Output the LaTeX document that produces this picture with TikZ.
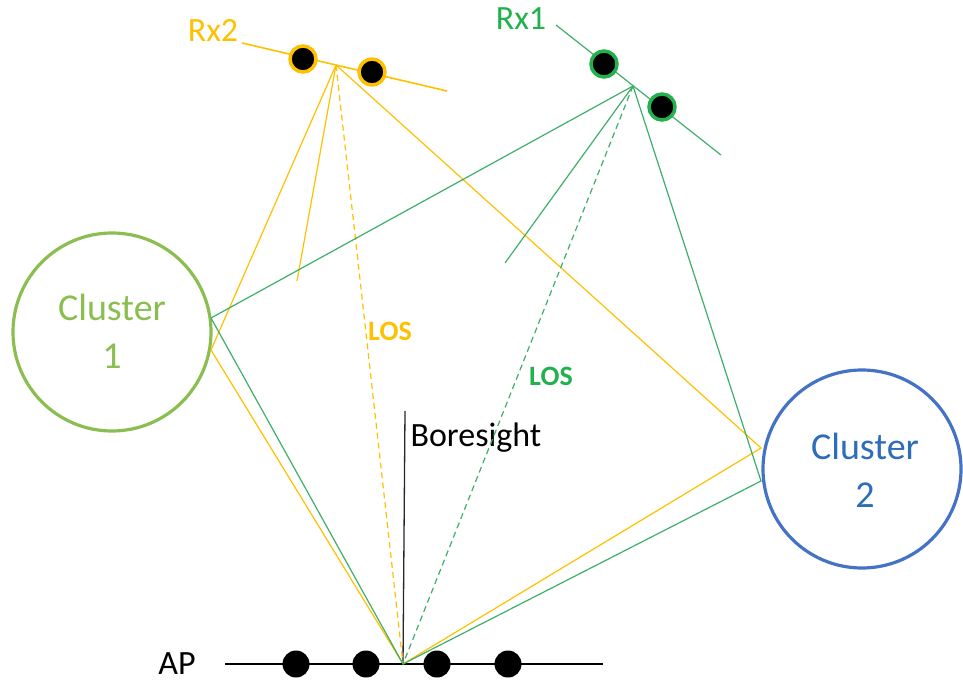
\documentclass[tikz,border=0pt]{standalone}
\usepackage{fontspec}
\setmainfont{Carlito}
\definecolor{orng}{HTML}{FFC000}
\definecolor{grn}{HTML}{3DAF6A}
\definecolor{grntxt}{HTML}{22B14C}
\definecolor{cgreen}{HTML}{8BBE50}
\definecolor{cblue}{HTML}{4472C4}
\definecolor{cbluetxt}{HTML}{2E6EB8}
\begin{document}
\begin{tikzpicture}[x=1pt,y=-1pt,
  ray/.style={line width=1.2pt},
  losray/.style={line width=1.2pt,dash pattern=on 6pt off 4pt},
  rxdot/.style={circle,fill=black,draw=#1,line width=3.5pt,minimum size=26pt,inner sep=0pt},
  apdot/.style={circle,fill=black,minimum size=27pt,inner sep=0pt},
  cluster/.style={circle,draw=#1,line width=3.2pt,minimum size=198pt,inner sep=0pt},
  lbl/.style={font=\fontsize{34}{40}\selectfont},
  clbl/.style={font=\fontsize{38}{48}\selectfont,align=center},
  loslbl/.style={font=\fontsize{28}{32}\selectfont\bfseries}]
\useasboundingbox (0,0) rectangle (963,684);
% clusters
\node[cluster=cgreen] (cl1) at (112,332) {};
\node[clbl,text=cgreen] (cl1t) at (112,331) {Cluster\\1};
\node[cluster=cblue] (cl2) at (862,469) {};
\node[clbl,text=cbluetxt] (cl2t) at (865,470) {Cluster\\2};
% key points
\coordinate (ap) at (403,664);
\coordinate (f2) at (336,65);
\coordinate (f1) at (633,86);
\coordinate (c1a) at (211,350);
\coordinate (c1b) at (211,318);
\coordinate (c2a) at (761,448);
\coordinate (c2b) at (761,481);
\coordinate (b2end) at (297,281);
\coordinate (b1end) at (505,263);
\coordinate (bs) at (405,411);
% AP array
\coordinate (apl) at (225,664);
\coordinate (apr) at (603,664);
\draw[line width=1.5pt,black] (apl) -- (apr);
\node[apdot] (ap1) at (296,664) {};
\node[apdot] (ap2) at (366,664) {};
\node[apdot] (ap3) at (437,664) {};
\node[apdot] (ap4) at (508,664) {};
\node[lbl,text=black,anchor=center] (aplbl) at (177,664) {AP};
% boresight
\draw[line width=1.3pt,black!85] (ap) -- (bs);
\node[font=\fontsize{34}{40}\selectfont,anchor=west,text=black] (bslbl) at (407,438) {Boresight};
% orange rays (Rx2)
\draw[ray,orng] (f2) -- (b2end);
\draw[ray,orng] (f2) -- (c1a) -- (ap);
\draw[ray,orng] (f2) -- (c2a) -- (ap);
\draw[losray,orng] (f2) -- (ap);
% green rays (Rx1)
\draw[ray,grn] (f1) -- (b1end);
\draw[ray,grn] (f1) -- (c1b) -- (ap);
\draw[ray,grn] (f1) -- (c2b) -- (ap);
\draw[losray,grn] (f1) -- (ap);
% Rx2 array
\coordinate (rx2s) at (242,43);
\coordinate (rx2e) at (447,91);
\draw[line width=1.6pt,orng] (rx2s) -- (rx2e);
\node[rxdot=orng] (rx2a) at (303,59) {};
\node[rxdot=orng] (rx2b) at (372,72) {};
\node[lbl,text=orng] (rx2lbl) at (213,30) {Rx2};
% Rx1 array
\coordinate (rx1s) at (556,25);
\coordinate (rx1e) at (721,155);
\draw[line width=1.2pt,grn] (rx1s) -- (rx1e);
\node[rxdot=grntxt] (rx1a) at (604,64) {};
\node[rxdot=grntxt] (rx1b) at (662,107) {};
\node[lbl,text=grntxt] (rx1lbl) at (521,19) {Rx1};
% LOS labels
\node[loslbl,text=orng] (los2) at (390,331) {LOS};
\node[loslbl,text=grntxt] (los1) at (551,376) {LOS};
\end{tikzpicture}
\end{document}
